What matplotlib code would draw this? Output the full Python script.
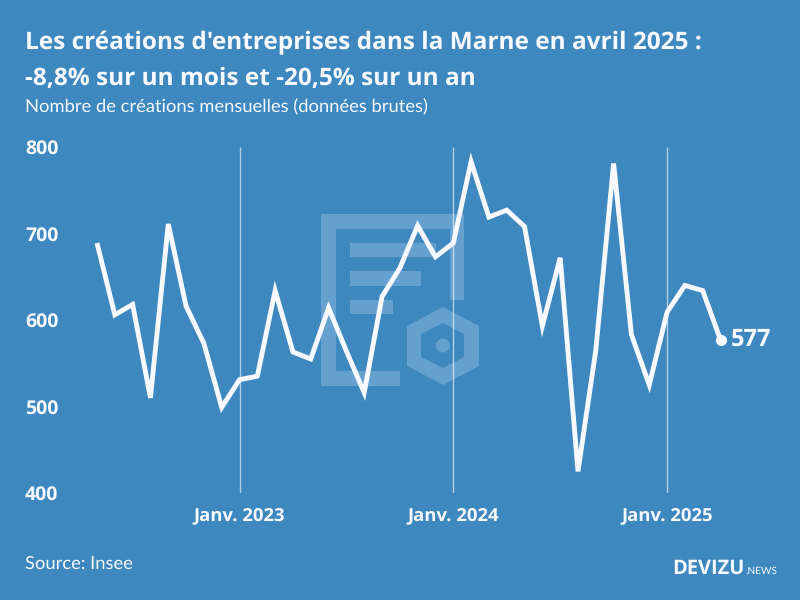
"""
plot.py - créations d'entreprises dans la Marne, données mensuelles brutes
"""
import matplotlib
matplotlib.use("Agg")
import matplotlib.pyplot as plt
import matplotlib.patches as mpatches

# ---------------------------------------------------------------------------
# Data (May 2022 -> April 2025)
# ---------------------------------------------------------------------------

months = list(range(36))
creations = [
    689, 606, 618, 510, 711, 616, 573, 499,
    531, 535, 634, 563, 555, 614, 564, 516, 627, 660, 709, 673,
    689, 783, 719, 727, 708, 593, 672, 425, 565, 781, 583, 525,
    609, 640, 634, 577,
]
january_pos = [8, 20, 32]
january_labels = ["Janv. 2023", "Janv. 2024", "Janv. 2025"]
y_ticks = [400, 500, 600, 700, 800]

BG = "#3d88be"
WHITE = "#f8f8ff"
LOGO = "#65a1cf"
W, H = 800, 600
BOLD_FONT = ["Open Sans", "DejaVu Sans"]

plt.rcParams["font.family"] = ["Lato", "DejaVu Sans"]
plt.rcParams["text.hinting"] = "none"

fig = plt.figure(figsize=(8, 6), dpi=100, facecolor=BG)

# ---------------------------------------------------------------------------
# Watermark logo, in pixel coordinates (y going down)
# ---------------------------------------------------------------------------

bg_ax = fig.add_axes([0, 0, 1, 1])
bg_ax.set_xlim(0, W)
bg_ax.set_ylim(H, 0)
bg_ax.axis("off")

logo_rects = [
    (321, 214, 143, 14.5),
    (321, 214, 15, 172),
    (321, 371, 79, 15),
    (450, 214, 14, 86),
    (350, 243, 86, 14),
    (350, 271, 71, 15),
    (350, 300, 43, 14),
]
for x0, y0, w, h in logo_rects:
    bg_ax.add_patch(mpatches.Rectangle((x0, y0), w, h, color=LOGO, lw=0))

hex_outer = [(443, 307), (479, 326), (479, 366), (443, 385), (407, 366), (407, 326)]
hex_inner = [(443, 323), (464, 334), (464, 357), (443, 368), (421, 357), (421, 334)]
bg_ax.add_patch(mpatches.Polygon(hex_outer, closed=True, color=LOGO, lw=0))
bg_ax.add_patch(mpatches.Polygon(hex_inner, closed=True, color=BG, lw=0))
bg_ax.add_patch(mpatches.Circle((443, 345.5), 7, color=LOGO, lw=0))

# ---------------------------------------------------------------------------
# Line chart
# ---------------------------------------------------------------------------

ax = fig.add_axes([97 / W, 1 - 493 / H, (720.5 - 97) / W, (493 - 147) / H])
ax.patch.set_alpha(0)
ax.set_xlim(0, 35)
ax.set_ylim(400, 800)
ax.spines[["top", "right", "left", "bottom"]].set_visible(False)

ax.vlines(january_pos, 400, 800, color="white", alpha=0.6, linewidth=1.0, zorder=2)
ax.plot(months, creations, color=WHITE, linewidth=3.5, solid_joinstyle="miter",
        solid_capstyle="butt", clip_on=False, zorder=3)
ax.plot(months[-1], creations[-1], "o", color=WHITE, markersize=7,
        clip_on=False, zorder=4)
ax.annotate(str(creations[-1]), xy=(months[-1], creations[-1]), xytext=(7.5, 0),
            textcoords="offset points", color=WHITE, fontsize=17, fontweight="bold",
            family=BOLD_FONT, va="center", ha="left", annotation_clip=False)

ax.set_xticks(january_pos)
ax.set_xticklabels(january_labels, fontsize=13.3, fontweight="bold", color=WHITE,
                   family=BOLD_FONT)
ax.tick_params(axis="x", length=0, pad=10)
ax.set_yticks(y_ticks)
ax.set_yticklabels([str(v) for v in y_ticks], fontsize=14, fontweight="bold",
                   color=WHITE, ha="left", family=BOLD_FONT)
ax.tick_params(axis="y", length=0, pad=(97 - 25) * 0.72)

# ---------------------------------------------------------------------------
# Texts
# ---------------------------------------------------------------------------

fig.text(25 / W, 1 - 49 / H, "Les créations d'entreprises dans la Marne en avril 2025 :",
         color=WHITE, fontsize=17.6, fontweight="bold", family=BOLD_FONT, va="baseline")
fig.text(25 / W, 1 - 85 / H, "-8,8% sur un mois et -20,5% sur un an",
         color=WHITE, fontsize=17.6, fontweight="bold", family=BOLD_FONT, va="baseline")
fig.text(25 / W, 1 - 112 / H, "Nombre de créations mensuelles (données brutes)",
         color=WHITE, fontsize=13.27, va="baseline")
fig.text(25 / W, 1 - 569 / H, "Source: Insee", color=WHITE, fontsize=13.2, va="baseline")
fig.text(745 / W, 1 - 574 / H, "DEVIZU", color=WHITE, fontsize=14.4, fontweight="bold",
         family=BOLD_FONT, ha="right", va="baseline")
fig.text(745 / W, 1 - 574 / H, ".NEWS", color=WHITE, fontsize=7.3, ha="left", va="baseline")

fig.savefig("out.png", dpi=100, facecolor=BG)
